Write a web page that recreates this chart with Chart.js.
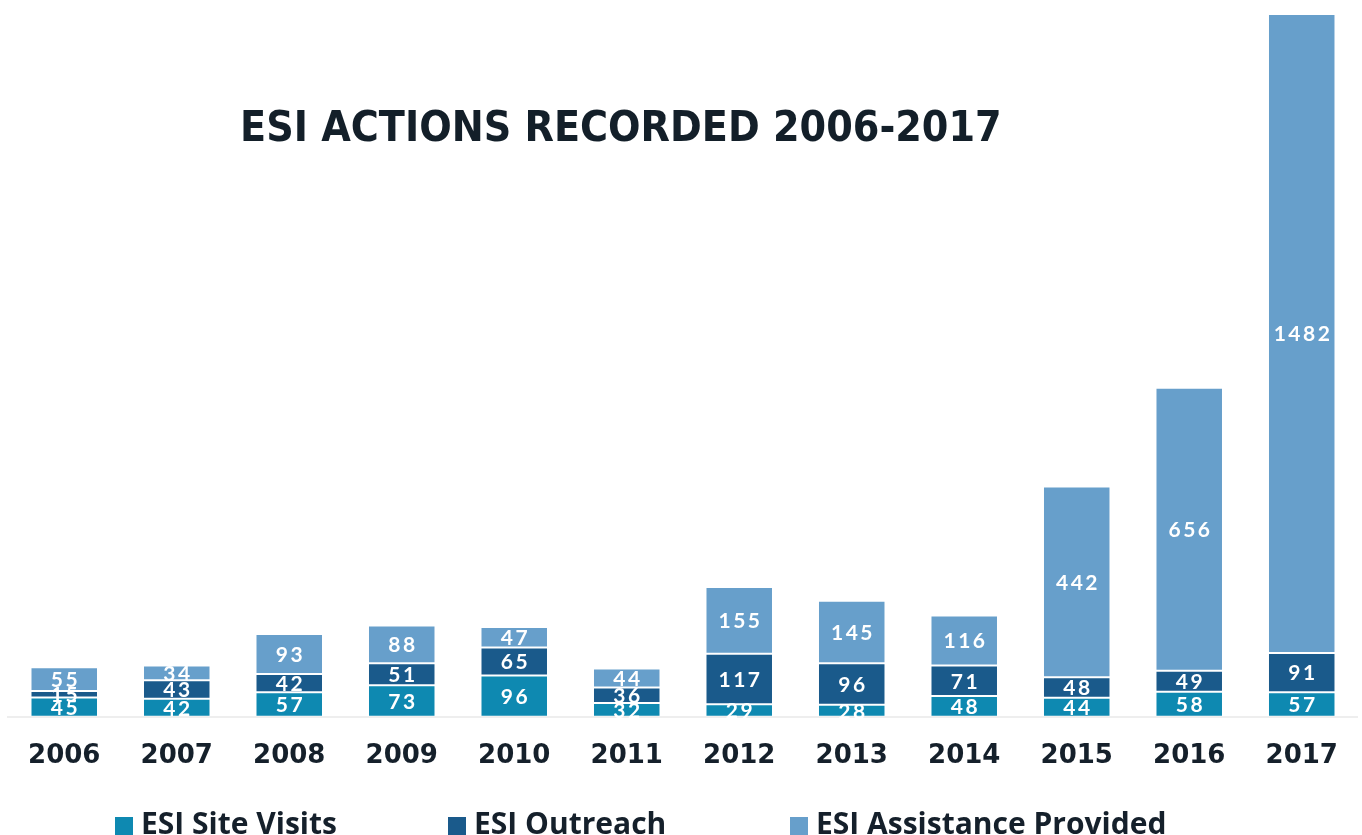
<!DOCTYPE html>
<html>
<head>
<meta charset="utf-8">
<title>ESI Actions Recorded 2006-2017</title>
<script src="https://cdn.jsdelivr.net/npm/chart.js@4.4.1/dist/chart.umd.min.js"></script>
<style>
  html, body { margin: 0; padding: 0; background: #ffffff; overflow: hidden; }
  #wrap { position: relative; width: 1362px; height: 835px; }
  #chartBox { position: absolute; left: 0; top: 0; width: 1362px; height: 816px; }
  #title {
    position: absolute; left: 240px; top: 104px;
    font-family: "DejaVu Sans", sans-serif; font-weight: bold; font-stretch: condensed;
    font-size: 42.5px; line-height: 46px; color: #131f29;
    white-space: nowrap;
  }
  #legend {
    position: absolute; left: 115px; top: 803px;
    display: flex; white-space: nowrap;
    font-family: "Open Sans", sans-serif; font-weight: bold; font-size: 30px;
    line-height: 40px; color: #15202b;
  }
  #legend .item { display: flex; align-items: center; }
  #legend .item:nth-child(1) { width: 333px; }
  #legend .item:nth-child(2) { width: 342px; }
  #legend .box { width: 18px; height: 18px; margin-right: 8px; margin-top: 6px; }
</style>
</head>
<body>
<div id="wrap">
  <div id="chartBox"><canvas id="esiChart"></canvas></div>
  <div id="title">ESI ACTIONS RECORDED 2006-2017</div>
  <div id="legend"></div>
</div>
<script>
const years = ['2006', '2007', '2008', '2009', '2010', '2011', '2012', '2013', '2014', '2015', '2016', '2017'];
const siteVisits = [45, 42, 57, 73, 96, 32, 29, 28, 48, 44, 58, 57];
const outreach = [15, 43, 42, 51, 65, 36, 117, 96, 71, 48, 49, 91];
const assistance = [55, 34, 93, 88, 47, 44, 155, 145, 116, 442, 656, 1482];

const seriesColors = ['#0e89b1', '#1a5a8b', '#679fcb'];
const textColor = '#15202b';

// white value labels centred in each stacked segment
const segmentLabels = {
  id: 'segmentLabels',
  afterDatasetsDraw(chart) {
    const ctx = chart.ctx;
    ctx.save();
    ctx.font = 'bold 21px Lato, sans-serif';
    ctx.fillStyle = '#ffffff';
    ctx.textAlign = 'center';
    ctx.textBaseline = 'middle';
    ctx.letterSpacing = '2.5px';
    chart.data.datasets.forEach((ds, i) => {
      const meta = chart.getDatasetMeta(i);
      meta.data.forEach((bar, j) => {
        const y = (bar.y + bar.base) / 2;
        ctx.fillText(String(ds.data[j]), bar.x + 1.25, y + 1);
      });
    });
    ctx.restore();
  }
};

const ctx = document.getElementById('esiChart').getContext('2d');
const chart = new Chart(ctx, {
  type: 'bar',
  data: {
    labels: years,
    datasets: [
      { label: 'ESI Site Visits', data: siteVisits, backgroundColor: seriesColors[0] },
      { label: 'ESI Outreach', data: outreach, backgroundColor: seriesColors[1] },
      { label: 'ESI Assistance Provided', data: assistance, backgroundColor: seriesColors[2] }
    ]
  },
  options: {
    responsive: true,
    maintainAspectRatio: false,
    animation: false,
    layout: { padding: { top: 14, left: 8, right: 2, bottom: 20 } },
    datasets: {
      bar: {
        barPercentage: 0.6,
        categoryPercentage: 1,
        borderColor: 'rgba(255, 255, 255, 0.15)',
        borderWidth: 1,
        borderSkipped: false
      }
    },
    plugins: {
      legend: { display: false },
      title: { display: false },
      tooltip: { enabled: false }
    },
    scales: {
      x: {
        stacked: true,
        grid: { display: false, drawTicks: false },
        border: { display: true, color: '#eeeeee', width: 2 },
        ticks: {
          color: textColor,
          padding: 24,
          font: { family: '"DejaVu Sans", sans-serif', size: 26, weight: 'bold' }
        }
      },
      y: {
        stacked: true,
        display: false,
        min: 0,
        max: 1630
      }
    }
  },
  plugins: [segmentLabels]
});

// legend built from the chart's datasets
const legendEl = document.getElementById('legend');
chart.data.datasets.forEach(ds => {
  const item = document.createElement('div');
  item.className = 'item';
  const box = document.createElement('span');
  box.className = 'box';
  box.style.background = ds.backgroundColor;
  const label = document.createElement('span');
  label.textContent = ds.label;
  item.appendChild(box);
  item.appendChild(label);
  legendEl.appendChild(item);
});
</script>
</body>
</html>
